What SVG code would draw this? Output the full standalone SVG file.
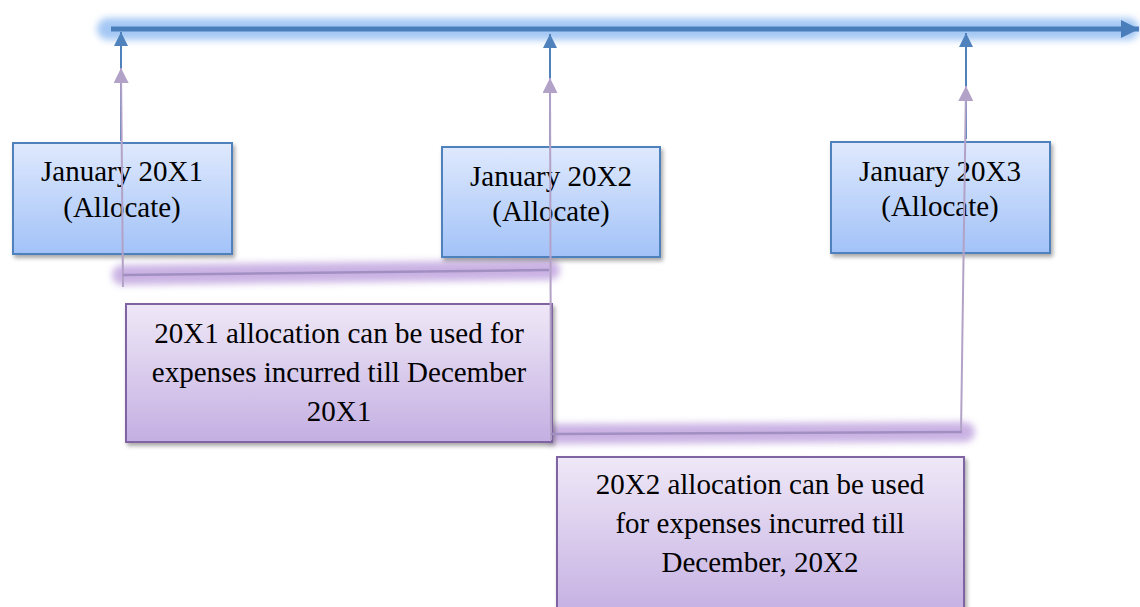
<svg xmlns="http://www.w3.org/2000/svg" width="1140" height="607" viewBox="0 0 1140 607">
<style>
.txt{font-family:"Liberation Serif","Times New Roman",serif;font-size:29px;fill:#000;text-anchor:middle}
.bbox{fill:url(#gBlue);stroke:#4f81bd;stroke-width:2;filter:url(#shadow)}
.pbox{fill:url(#gPurple);stroke:#8064a2;stroke-width:2;filter:url(#shadow)}
.blue-ln{stroke:#4f81bd;stroke-width:2;fill:none;marker-end:url(#aBlue)}
.pur-ln{stroke:#b3a2c7;stroke-width:2;fill:none}
.pur-arr{marker-end:url(#aPurple)}
.pur-h{stroke:#a28fc2;stroke-width:2.5;fill:none}
.pur-glow{stroke:#c7aee2;stroke-width:20;stroke-linecap:round;fill:none;opacity:0.95;filter:url(#blur)}
</style>
<defs>
<linearGradient id="gBlue" x1="0" y1="0" x2="0" y2="1">
<stop offset="0" stop-color="#dfe9fd"/>
<stop offset="1" stop-color="#a2c2f8"/>
</linearGradient>
<linearGradient id="gPurple" x1="0" y1="0" x2="0" y2="1">
<stop offset="0" stop-color="#efe8f7"/>
<stop offset="1" stop-color="#c4afe2"/>
</linearGradient>
<filter id="shadow" x="-5%" y="-5%" width="115%" height="120%">
<feGaussianBlur in="SourceAlpha" stdDeviation="2"/>
<feOffset dx="2" dy="3" result="b"/>
<feComponentTransfer><feFuncA type="linear" slope="0.35"/></feComponentTransfer>
<feMerge><feMergeNode/><feMergeNode in="SourceGraphic"/></feMerge>
</filter>
<filter id="blur" filterUnits="userSpaceOnUse" x="0" y="0" width="1140" height="607">
<feGaussianBlur stdDeviation="3.5"/>
</filter>
<marker id="aBlue" viewBox="0 0 10 10" refX="10" refY="5" markerWidth="14" markerHeight="14" markerUnits="userSpaceOnUse" orient="auto">
<path d="M0,0 L10,5 L0,10 Z" fill="#4f81bd"/>
</marker>
<marker id="aPurple" viewBox="0 0 10 10" refX="10" refY="5" markerWidth="15" markerHeight="15" markerUnits="userSpaceOnUse" orient="auto">
<path d="M0,0 L10,5 L0,10 Z" fill="#b3a2c7"/>
</marker>
<marker id="aTime" viewBox="0 0 10 10" refX="10" refY="5" markerWidth="18" markerHeight="18" markerUnits="userSpaceOnUse" orient="auto">
<path d="M0,0 L10,5 L0,10 Z" fill="#4a7ebb"/>
</marker>
</defs>

<g id="timeline">
<line x1="108" y1="29" x2="1128" y2="29" stroke="#a4c8f4" stroke-width="22" stroke-linecap="round" filter="url(#blur)"/>
<line x1="111" y1="29" x2="1139" y2="29" stroke="#4a7ebb" stroke-width="5" marker-end="url(#aTime)"/>
</g>

<g id="connectors">
<line class="blue-ln" x1="121" y1="141" x2="121" y2="32"/>
<line class="blue-ln" x1="550" y1="145" x2="550" y2="34"/>
<line class="blue-ln" x1="966" y1="139" x2="966" y2="33"/>
<line class="pur-glow" x1="122" y1="275" x2="550" y2="270"/>
<line class="pur-glow" x1="554" y1="434" x2="965" y2="432"/>
</g>

<g id="node-jan-20x1">
<rect class="bbox" x="13" y="143" width="219" height="111"/>
<text class="txt" x="122" y="181">January 20X1</text>
<text class="txt" x="122" y="217">(Allocate)</text>
</g>

<g id="node-jan-20x2">
<rect class="bbox" x="442" y="147" width="218" height="110"/>
<text class="txt" x="551" y="186">January 20X2</text>
<text class="txt" x="551" y="221">(Allocate)</text>
</g>

<g id="node-jan-20x3">
<rect class="bbox" x="831" y="142" width="219" height="111"/>
<text class="txt" x="940" y="181">January 20X3</text>
<text class="txt" x="940" y="216">(Allocate)</text>
</g>

<g id="node-20x1-alloc">
<rect class="pbox" x="126" y="304" width="426" height="138"/>
<text class="txt" x="339" y="343">20X1 allocation can be used for</text>
<text class="txt" x="339" y="382">expenses incurred till December</text>
<text class="txt" x="339" y="421">20X1</text>
</g>

<g id="node-20x2-alloc">
<rect class="pbox" x="557" y="457" width="407" height="160"/>
<text class="txt" x="760" y="494">20X2 allocation can be used</text>
<text class="txt" x="760" y="533">for expenses incurred till</text>
<text class="txt" x="760" y="572">December, 20X2</text>
</g>

<g id="connectors-overlay">
<line class="pur-ln pur-arr" x1="123" y1="287" x2="121" y2="68"/>
<line class="pur-ln pur-arr" x1="551" y1="440" x2="550" y2="78"/>
<line class="pur-ln pur-arr" x1="961" y1="433" x2="966" y2="86"/>
<line class="pur-h" x1="123" y1="275" x2="549" y2="270"/>
<line class="pur-h" x1="551" y1="434" x2="962" y2="432"/>
</g>
</svg>
